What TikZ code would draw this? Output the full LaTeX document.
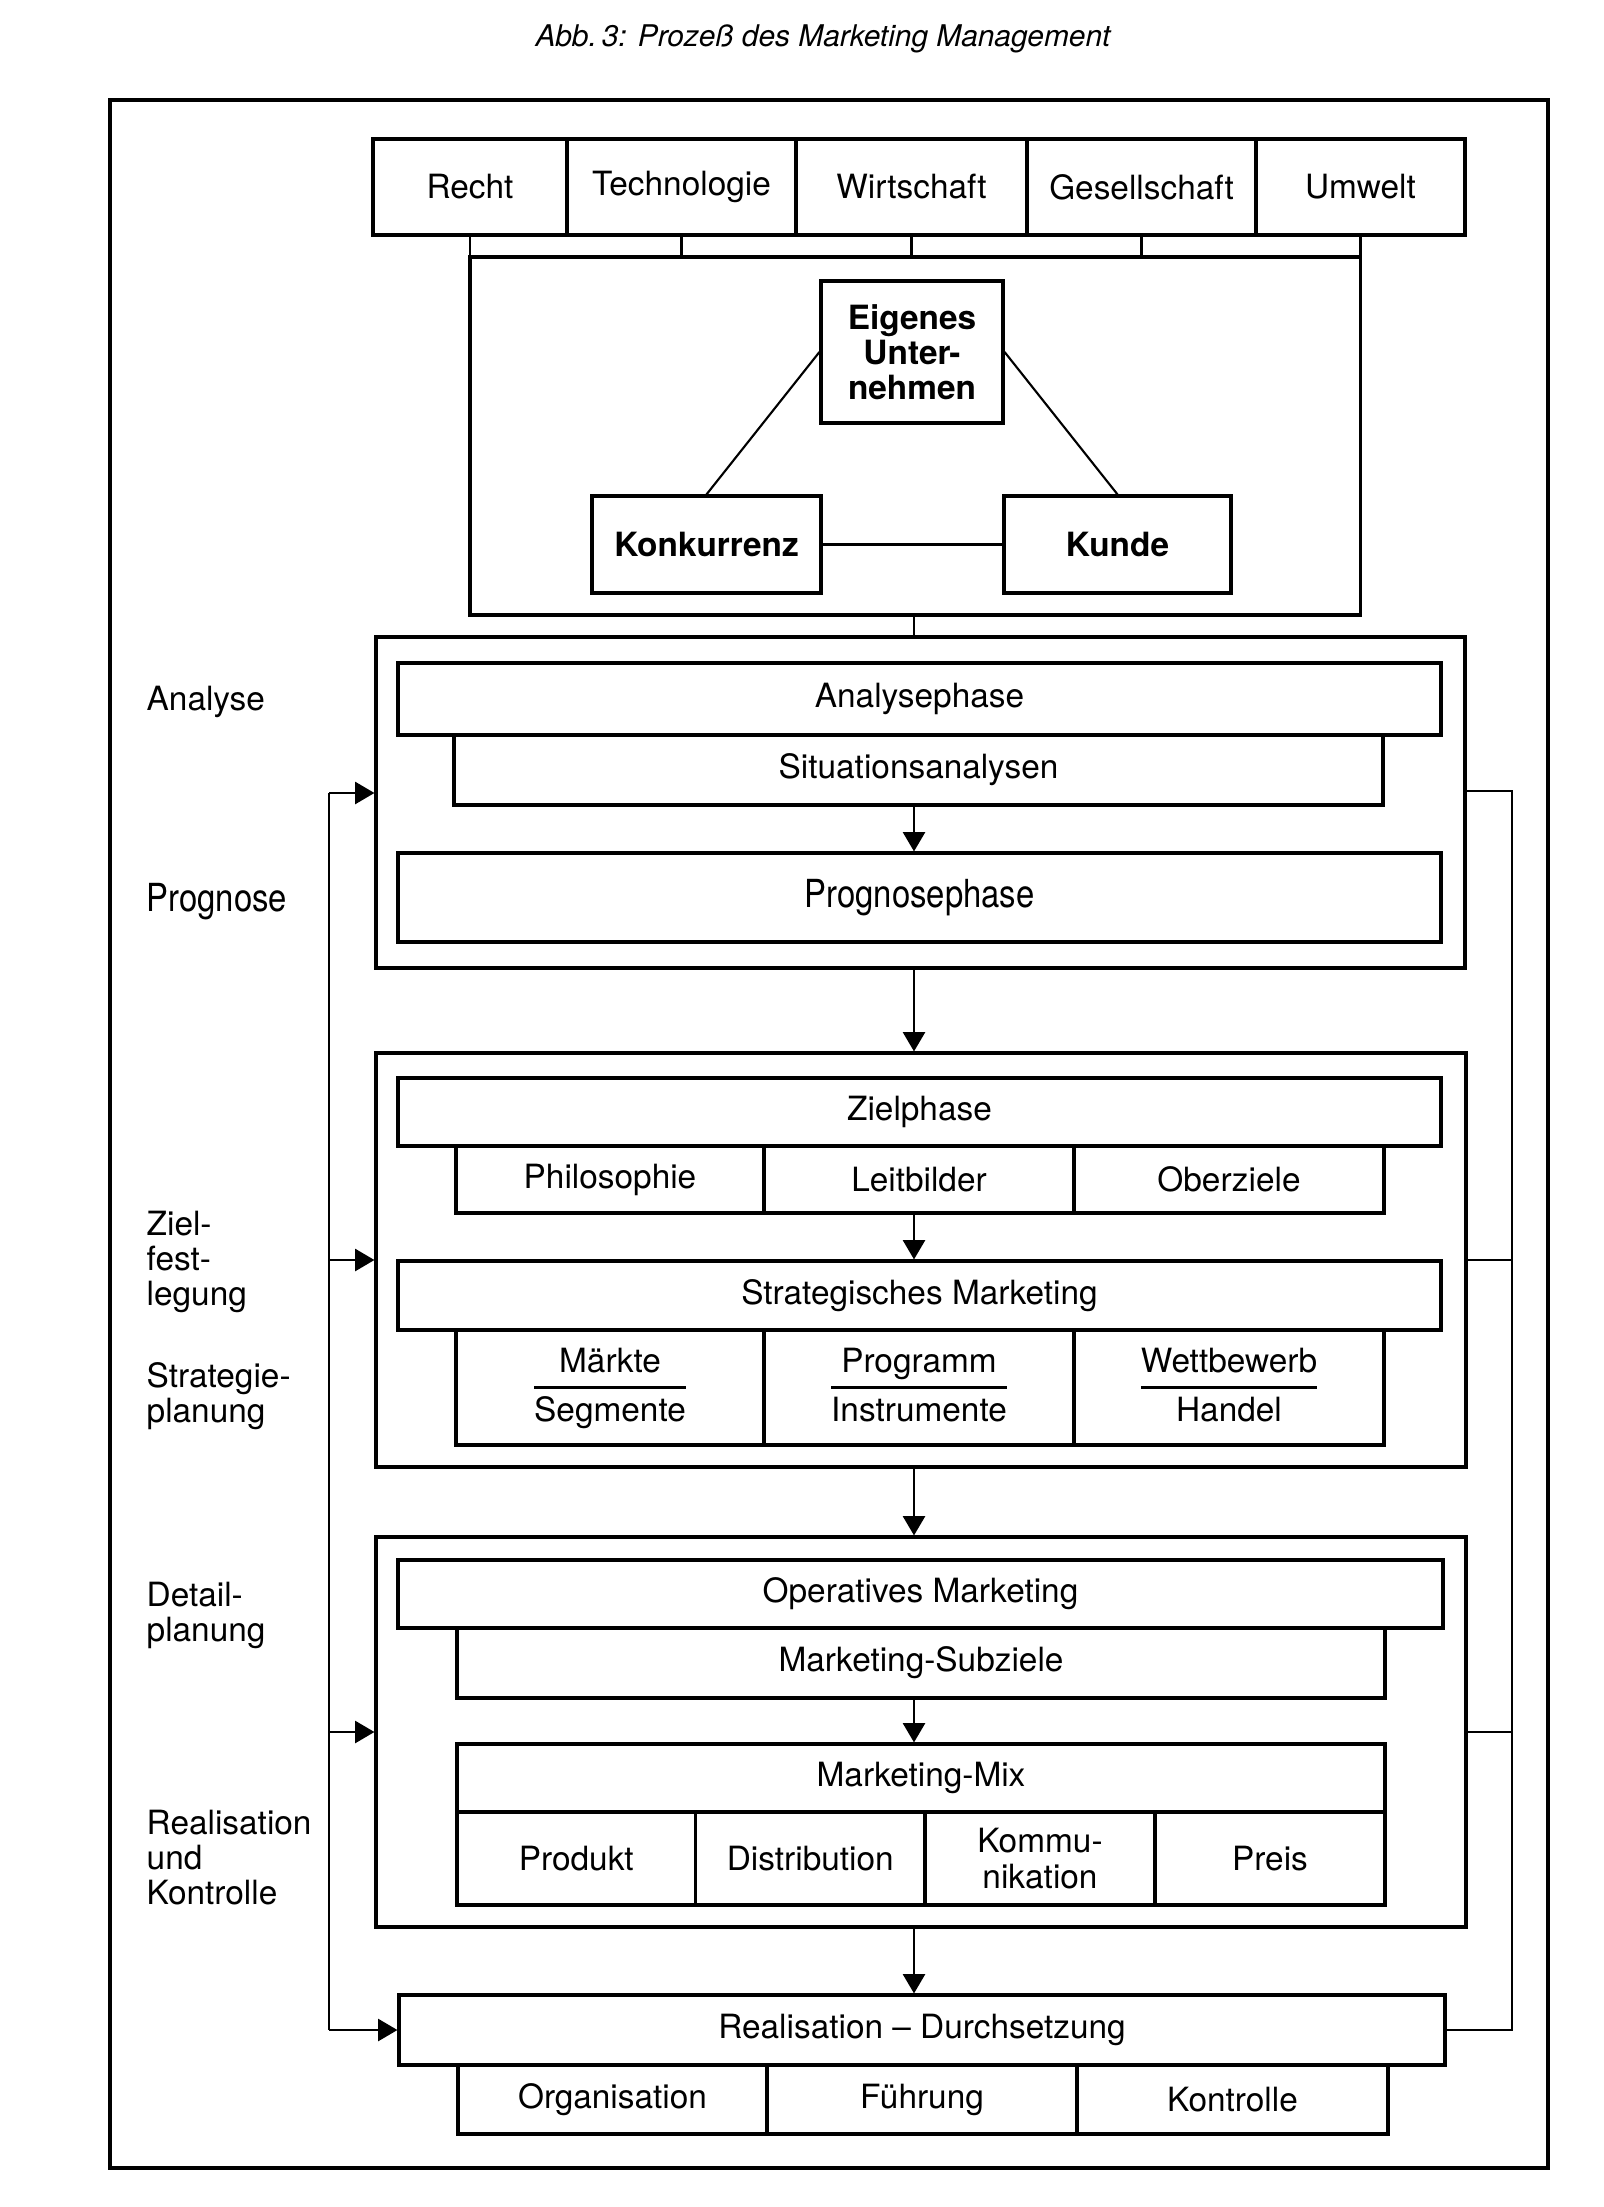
\documentclass[tikz,border=0pt]{standalone}
\usepackage{graphicx}
\usepackage{fontspec}
\setmainfont{TeX Gyre Heros}
\usetikzlibrary{arrows.meta}
\newcommand{\bruch}[2]{{\renewcommand{\arraystretch}{1.35}\setlength{\arrayrulewidth}{0.6pt}\begin{tabular}{@{}c@{}}#1\\\hline #2\end{tabular}}}
\newcommand{\gross}[1]{\scalebox{0.85}[1]{\fontsize{11}{12}\selectfont #1}}
\begin{document}
\begin{tikzpicture}[x=0.1mm,y=-0.1mm,
            every node/.style={font=\fontsize{9.5}{10}\selectfont},
            zelle/.style 2 args={draw,line width=0.9pt,inner sep=0pt,align=center,minimum width=#1mm,minimum height=#2mm},
            fett/.style={font=\fontsize{9.5}{10}\selectfont\bfseries},
            lbl/.style={anchor=north west,inner sep=0pt,align=left},
            con/.style={line width=0.6pt},
            arr/.style={con,-{Triangle[length=5.5pt,width=6.3pt]}}]
            \useasboundingbox (0,0) rectangle (1603,2207);
            \node(titel)[anchor=base,font=\fontsize{8.5}{10}\selectfont\itshape] at (823,47){Abb.\,3: Prozeß des Marketing Management};
            \draw[line width=0.9pt] (110,100) rectangle (1548,2168);
            \node(recht)[zelle={19.4}{9.6}] at (470,187){Recht};
            \node(tech)[zelle={22.9}{9.6}] at (681.5,187){Technologie};
            \node(wirt)[zelle={23.1}{9.6}] at (911.5,187){Wirtschaft};
            \node(gesell)[zelle={22.9}{9.6}] at (1141.5,187){Gesellschaft};
            \node(umwelt)[zelle={20.9}{9.6}] at (1360.5,187){Umwelt};
            \node(umfeld)[zelle={89.05}{35.8}] at (915.25,436){};
            \foreach \n in {recht,tech,wirt,gesell,umwelt}
                \draw[con] (\n.south) -- (\n.south |- umfeld.north);
            \node(eigen)[zelle={18.2}{14.2},fett] at (912,352){Eigenes\\Unter-\\nehmen};
            \node(konk)[zelle={22.9}{9.7},fett] at (706.5,544.5){Konkurrenz};
            \node(kunde)[zelle={22.7}{9.7},fett] at (1117.5,544.5){Kunde};
            \draw[con] (eigen.west) -- (konk.north);
            \draw[con] (eigen.east) -- (kunde.north);
            \draw[con] (konk.east) -- (kunde.west);
            \coordinate (mitte) at (914,0);
            \node(stage1)[zelle={108.9}{33.1}] at (920.5,802.5){};
            \node(aphase)[zelle={104.3}{7.2}] at (919.5,699){Analysephase};
            \node(situ)[zelle={92.9}{7.0}] at (918.5,770){Situationsanalysen};
            \node(pphase)[zelle={104.3}{8.9}] at (919.5,897.5){\gross{Prognosephase}};
            \node(stage2)[zelle={109}{41.4}] at (921,1260){};
            \node(zphase)[zelle={104.3}{6.8}] at (919.5,1112){Zielphase};
            \node(philo)[zelle={30.8}{6.7}] at (610,1179.5){Philosophie};
            \node(leit)[zelle={31.0}{6.7}] at (919,1179.5){Leitbilder};
            \node(ober)[zelle={31.0}{6.7}] at (1229,1179.5){Oberziele};
            \node(strat)[zelle={104.3}{6.9}] at (919.5,1295.5){Strategisches Marketing};
            \node(maerkte)[zelle={30.8}{11.5}] at (610,1387.5){\bruch{Märkte}{Segmente}};
            \node(progr)[zelle={31.0}{11.5}] at (919,1387.5){\bruch{Programm}{Instrumente}};
            \node(wettb)[zelle={31.0}{11.5}] at (1229,1387.5){\bruch{Wettbewerb}{Handel}};
            \node(stage3)[zelle={109}{39}] at (921,1732){};
            \node(ophase)[zelle={104.5}{6.8}] at (920.5,1594){Operatives Marketing};
            \node(subz)[zelle={92.8}{7.0}] at (921,1663){Marketing-Subziele};
            \node(mix)[zelle={92.8}{6.8}] at (921,1778){Marketing-Mix};
            \node(produkt)[zelle={23.85}{9.3}] at (576.25,1858.5){Produkt};
            \node(distr)[zelle={22.95}{9.3}] at (810.25,1858.5){Distribution};
            \node(komm)[zelle={23.0}{9.3}] at (1040,1858.5){Kommu-\\nikation};
            \node(preis)[zelle={23.0}{9.3}] at (1270,1858.5){Preis};
            \node(real)[zelle={104.6}{7.0}] at (922,2030){Realisation -- Durchsetzung};
            \node(org)[zelle={30.9}{6.9}] at (612.5,2099.5){Organisation};
            \node(fuehr)[zelle={31.0}{6.9}] at (922,2099.5){Führung};
            \node(kontr)[zelle={31.1}{6.9}] at (1232.5,2099.5){Kontrolle};
            \draw[con] (umfeld.south -| mitte) -- (stage1.north -| mitte);
            \draw[arr] (situ.south -| mitte) -- (pphase.north -| mitte);
            \draw[arr] (stage1.south -| mitte) -- (stage2.north -| mitte);
            \draw[arr] (leit.south -| mitte) -- (strat.north -| mitte);
            \draw[arr] (stage2.south -| mitte) -- (stage3.north -| mitte);
            \draw[arr] (subz.south -| mitte) -- (mix.north -| mitte);
            \draw[arr] (stage3.south -| mitte) -- (real.north -| mitte);
            \coordinate (lt) at (329,793);
            \coordinate (rt) at (1512,791);
            \draw[con] (lt) -- (lt |- real.west);
            \draw[arr] (lt) -- (lt -| stage1.west);
            \draw[arr] (lt |- stage2.west) -- (stage2.west);
            \draw[arr] (lt |- stage3.west) -- (stage3.west);
            \draw[arr] (lt |- real.west) -- (real.west);
            \draw[con] (rt -| stage1.east) -- (rt) -- (rt |- real.east) -- (real.east);
            \draw[con] (stage2.east) -- (stage2.east -| rt);
            \draw[con] (stage3.east) -- (stage3.east -| rt);
            \node(l1)[lbl] at (146,685){Analyse};
            \node(l2)[lbl] at (146,883){\gross{Prognose}};
            \node(l3)[lbl] at (146,1210){Ziel-\\fest-\\legung};
            \node(l4)[lbl] at (146,1362){Strategie-\\planung};
            \node(l5)[lbl] at (146,1581){Detail-\\planung};
            \node(l6)[lbl] at (146,1809){Realisation\\und\\Kontrolle};
\end{tikzpicture}
\end{document}
